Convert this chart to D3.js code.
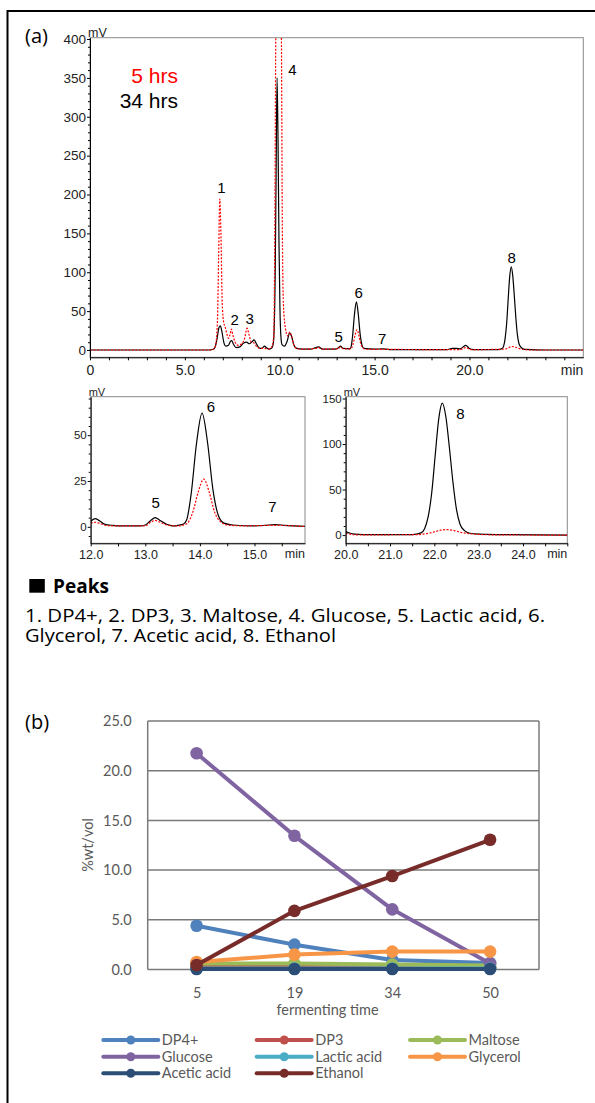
<!DOCTYPE html>
<html><head><meta charset="utf-8">
<script src="https://cdn.jsdelivr.net/npm/d3@7"></script>
<style>
body{margin:0;background:#fff;}
svg{display:block;}
</style></head><body>
<svg id="c" width="595" height="1103"></svg>
<script>
// ---------- DATA (a): chromatograms, [time min, mV] ----------
const main34 = [[0,0],[6.3,0],[6.5,1],[6.6,4],[6.7,15],[6.8,29],[6.87,31],[6.95,24],[7.05,10],[7.15,5],[7.3,6],[7.4,11],[7.47,12],[7.55,8],[7.7,3],[7.9,4],[8.1,9],[8.25,10],[8.4,8],[8.55,11],[8.65,13],[8.75,9],[8.9,3],[9.05,2],[9.2,5],[9.3,3],[9.45,1],[9.6,3],[9.66,8],[9.71,30],[9.76,95],[9.81,230],[9.86,350],[9.91,270],[9.96,140],[10.01,55],[10.06,18],[10.12,7],[10.25,5],[10.4,12],[10.52,22],[10.62,18],[10.75,6],[10.9,2],[11.2,1],[11.6,1],[11.9,3],[12.05,4],[12.25,1],[12.9,1],[13.1,3],[13.2,5],[13.35,2],[13.7,1.5],[13.76,4],[13.84,18],[13.94,46],[14.04,62],[14.14,46],[14.24,20],[14.34,6],[14.44,2],[15,1],[15.4,1.5],[15.8,0.5],[17,0.5],[18.8,0.5],[19.1,2],[19.3,2],[19.5,1.5],[19.8,6],[20,2],[20.2,0.5],[21.5,0.5],[21.72,2],[21.8,5],[21.88,15],[21.96,34],[22.04,65],[22.12,94],[22.2,107],[22.28,96],[22.36,71],[22.44,43],[22.52,21],[22.6,9],[22.7,4],[22.82,1.5],[23,0.7],[24,0],[26,0]];
const main5 = [[0,0],[6.3,0],[6.5,1],[6.62,6],[6.72,40],[6.78,120],[6.84,194],[6.9,150],[6.97,60],[7.05,35],[7.12,30],[7.2,22],[7.3,15],[7.4,22],[7.45,27],[7.52,20],[7.65,10],[7.8,6],[8.0,8],[8.15,15],[8.28,28],[8.38,20],[8.5,10],[8.65,9],[8.8,4],[9.0,2],[9.2,2],[9.4,1],[9.55,3],[9.68,15],[9.74,150],[9.79,400],[9.86,560],[9.94,600],[10.02,560],[10.09,400],[10.14,150],[10.2,55],[10.3,28],[10.42,18],[10.53,23],[10.62,18],[10.75,6],[10.9,2],[11.2,1],[11.9,2],[12.05,3],[12.25,1],[13.1,2],[13.2,4],[13.35,1.5],[13.75,1.5],[13.87,8],[13.97,19],[14.07,26],[14.17,19],[14.27,8],[14.37,3],[14.5,1],[15.4,0.8],[19.5,0.5],[19.8,3],[20.1,0.5],[21.8,1],[22.0,2],[22.15,4],[22.3,4.5],[22.45,3.5],[22.6,2],[22.9,0.5],[23.2,0],[26,0]];
const zoom6_34 = [[12.0,3],[12.08,4.5],[12.15,3.5],[12.25,1.5],[12.4,0.8],[12.6,0.5],[12.9,0.5],[13.0,1],[13.1,3.5],[13.18,5],[13.27,3.5],[13.38,1.5],[13.5,0.5],[13.6,0.8],[13.7,1.5],[13.76,4],[13.84,18],[13.94,46],[14.04,62],[14.14,46],[14.24,20],[14.34,6],[14.44,2],[14.6,1],[15.0,0.5],[15.2,0.8],[15.38,1.2],[15.55,0.8],[15.93,0.3]];
const zoom6_5 = [[12.0,2],[12.08,2.5],[12.15,2],[12.25,1],[12.4,0.5],[13.0,0.5],[13.1,2.5],[13.18,3.5],[13.27,2.5],[13.4,1],[13.6,0.5],[13.75,1.5],[13.87,8],[13.97,19],[14.07,26],[14.17,19],[14.27,8],[14.37,3],[14.5,1],[14.8,0.5],[15.38,0.8],[15.93,0.2]];
const zoom8_34 = [[20.0,4],[20.1,2],[20.2,1],[20.4,0.5],[21.0,0.5],[21.5,0.6],[21.7,2.5],[21.78,7],[21.86,20],[21.94,46],[22.02,88],[22.1,128],[22.18,145],[22.26,130],[22.34,96],[22.42,58],[22.5,28],[22.58,12],[22.68,5],[22.8,2],[23.0,1],[23.5,0.5],[25,0]];
const zoom8_5 = [[20.0,2],[20.1,1],[20.25,0.3],[21.6,0.5],[21.8,1.5],[22.0,3.5],[22.15,5.5],[22.3,6],[22.45,5],[22.6,3],[22.8,1.5],[23.0,0.8],[23.3,0.3],[25,0]];
// peak labels: [label, time, mV]
const mainPeaks = [["1",6.93,202],["2",7.63,32],["3",8.42,34],["4",10.67,354],["5",13.1,10.7],["6",14.16,67],["7",15.4,7.3],["8",22.23,111.5]];
const zoom6Peaks = [["5",13.19,10],["6",14.2,62.5],["7",15.33,8.2]];
const zoom8Peaks = [["8",22.59,128]];
const mainYTicks = [0,50,100,150,200,250,300,350,400];
const mainXTicks = [0,5,10,15,20];
const zoom6YTicks = [0,25,50];
const zoom6XTicks = [12,13,14,15];
const zoom8YTicks = [0,50,100,150];
const zoom8XTicks = [20,21,22,23,24];
const sampleNames = ["5 hrs","34 hrs"];
const peakLines = ["1. DP4+, 2. DP3, 3. Maltose, 4. Glucose, 5. Lactic acid, 6.","Glycerol, 7. Acetic acid, 8. Ethanol"];

// ---------- DATA (b): composition vs fermenting time ----------
const fermentTimes = ["5","19","34","50"];
const seriesNames = ["DP4+","DP3","Maltose","Glucose","Lactic acid","Glycerol","Acetic acid","Ethanol"];
const dp4 = [4.4,2.5,0.95,0.65];
const dp3 = [0.3,0.25,0.2,0.2];
const maltose = [0.6,0.6,0.5,0.4];
const glucose = [21.75,13.45,6.05,0.6];
const lactic = [0.1,0.1,0.1,0.1];
const glycerol = [0.75,1.5,1.8,1.8];
const acetic = [0.05,0.05,0.05,0.05];
const ethanol = [0.45,5.9,9.4,13.05];
const pctTicks = [0,5,10,15,20,25];

// ---------- DRAW ----------
const svg = d3.select("#c");
const CF = "'Liberation Sans', Arial, sans-serif";
const TF = "'Open Sans', 'Noto Sans', sans-serif";
const BF = "Lato, 'Open Sans', sans-serif";

svg.append("path").attr("d","M7.5,1103V11H595").attr("fill","none").attr("stroke","#000").attr("stroke-width",2);
svg.append("text").attr("x",25).attr("y",43).attr("font-family",TF).attr("font-size",20).text("(a)");
svg.append("text").attr("x",25).attr("y",729).attr("font-family",TF).attr("font-size",20).text("(b)");

function chrom(o){
  const x = d3.scaleLinear().domain(o.xd).range([o.l,o.r]);
  const y = d3.scaleLinear().domain(o.yd).range([o.b,o.t]);
  const g = svg.append("g");
  const cid = "clip"+o.id;
  g.append("clipPath").attr("id",cid).append("rect").attr("x",o.l).attr("y",o.t).attr("width",o.r-o.l).attr("height",o.b-o.t);
  g.append("rect").attr("x",o.l).attr("y",o.t).attr("width",o.r-o.l).attr("height",o.b-o.t).attr("fill","none").attr("stroke","#8a8a8a").attr("stroke-width",1);
  const line = d3.line().x(d=>x(d[0])).y(d=>y(d[1])).curve(d3.curveMonotoneX);
  const pg = g.append("g").attr("clip-path",`url(#${cid})`);
  pg.append("path").attr("d",line(o.black)).attr("fill","none").attr("stroke","#000").attr("stroke-width",1.2);
  pg.append("path").attr("d",line(o.red)).attr("fill","none").attr("stroke","#ff0000").attr("stroke-width",1.2).attr("stroke-dasharray","2,1.5");
  const ya = g.append("g").attr("transform",`translate(${o.l},0)`)
    .call(d3.axisLeft(y).tickValues(o.yt).tickSize(3).tickSizeOuter(0).tickPadding(1).tickFormat(d3.format("d")));
  ya.selectAll("text").attr("font-family",CF).attr("font-size",o.yfs).attr("fill","#222");
  const ym = g.append("g").attr("transform",`translate(${o.l},0)`)
    .call(d3.axisLeft(y).tickValues(o.ym).tickSize(2).tickFormat(""));
  ym.select(".domain").remove();
  const xa = g.append("g").attr("transform",`translate(0,${o.b})`)
    .call(d3.axisBottom(x).tickValues(o.xt).tickSize(3).tickSizeOuter(0).tickPadding(o.xpad).tickFormat(o.xf));
  xa.selectAll("text").attr("font-family",CF).attr("font-size",o.xfs).attr("fill","#222");
  const xm = g.append("g").attr("transform",`translate(0,${o.b})`)
    .call(d3.axisBottom(x).tickValues(o.xm).tickSize(3).tickFormat(""));
  xm.select(".domain").remove();
  g.selectAll(".domain").attr("stroke","#000");
  g.append("text").attr("x",o.l-2).attr("y",o.t-1).attr("font-family",CF).attr("font-size",o.ufs).attr("fill","#222").text("mV");
  g.append("text").attr("x",o.r).attr("y",o.b+o.minY).attr("text-anchor","end").attr("font-family",CF).attr("font-size",o.xfs).attr("fill","#222").text("min");
  g.selectAll(".pk").data(o.peaks).join("text").attr("class","pk")
    .attr("x",d=>x(d[1])).attr("y",d=>y(d[2])).attr("text-anchor","middle")
    .attr("font-family",CF).attr("font-size",o.pfs).text(d=>d[0]);
  return {x,y,g};
}

const m = chrom({id:"m",l:90,r:583.3,t:37.7,b:357.3,xd:[0,26],yd:[-9.4,401.7],
  black:main34, red:main5, yt:mainYTicks, ym:d3.range(10,401,10).filter(v=>v%50),
  xt:mainXTicks, xm:d3.range(1,26,1).filter(v=>v%5).concat([25]), xf:d=>d===0?"0":d.toFixed(1),
  xfs:14, yfs:13.5, ufs:12.5, xpad:4.5, minY:18, pfs:15, peaks:mainPeaks});
m.g.append("text").attr("x",178).attr("y",83).attr("text-anchor","end").attr("font-family",CF).attr("font-size",21).attr("fill","#ff0000").text(sampleNames[0]);
m.g.append("text").attr("x",178).attr("y",108).attr("text-anchor","end").attr("font-family",CF).attr("font-size",21).attr("fill","#000").text(sampleNames[1]);

chrom({id:"z6",l:90.7,r:305,t:396.7,b:543.3,xd:[12,15.925],yd:[-9,71],
  black:zoom6_34, red:zoom6_5, yt:zoom6YTicks, ym:d3.range(-5,71,5).filter(v=>v%25),
  xt:zoom6XTicks, xm:[12.5,13.5,14.5,15.5], xf:d=>d.toFixed(1),
  xfs:12.5, yfs:11.5, ufs:11, xpad:4, minY:15, pfs:15, peaks:zoom6Peaks});

chrom({id:"z8",l:345.7,r:567.3,t:396.7,b:543.3,xd:[20,25],yd:[-9,152],
  black:zoom8_34, red:zoom8_5, yt:zoom8YTicks, ym:d3.range(10,151,10).filter(v=>v%50),
  xt:zoom8XTicks, xm:[20.5,21.5,22.5,23.5,24.5,25], xf:d=>d.toFixed(1),
  xfs:12.5, yfs:11.5, ufs:11, xpad:4, minY:15, pfs:15, peaks:zoom8Peaks});

// Peaks text
svg.append("rect").attr("x",29.3).attr("y",579).attr("width",15.5).attr("height",13.7).attr("fill","#000");
svg.append("text").attr("x",53).attr("y",592.7).attr("font-family",TF).attr("font-weight","bold").attr("font-size",19).text("Peaks");
svg.append("text").attr("x",25).attr("y",621.7).attr("font-family",TF).attr("font-size",18.5)
  .attr("textLength",520).attr("lengthAdjust","spacingAndGlyphs").text(peakLines[0]);
svg.append("text").attr("x",25).attr("y",641.5).attr("font-family",TF).attr("font-size",18.5)
  .attr("textLength",311).attr("lengthAdjust","spacingAndGlyphs").text(peakLines[1]);

// ---------- chart (b) ----------
const colors = ["#4F81BD","#C0504D","#9BBB59","#8064A2","#4BACC6","#F79646","#2C4D75","#772C2A"];
const seriesVals = [dp4,dp3,maltose,glucose,lactic,glycerol,acetic,ethanol];
const bl=147.7, br=539, bt=721, bb=969.5;
const bx = d3.scalePoint().domain(fermentTimes).range([bl,br]).padding(0.5);
const by = d3.scaleLinear().domain([0,25]).range([bb,bt]);
const gb = svg.append("g");
gb.selectAll(".grid").data(pctTicks).join("line").attr("class","grid")
  .attr("x1",bl).attr("x2",br).attr("y1",d=>by(d)).attr("y2",d=>by(d))
  .attr("stroke","#7a7a7a").attr("stroke-width",1.5);
gb.append("line").attr("x1",bl).attr("x2",bl).attr("y1",bt).attr("y2",bb).attr("stroke","#7a7a7a").attr("stroke-width",1.5);
gb.append("line").attr("x1",br).attr("x2",br).attr("y1",bt).attr("y2",bb).attr("stroke","#7a7a7a").attr("stroke-width",1.5);
const bya = gb.append("g").attr("transform",`translate(${bl},0)`)
  .call(d3.axisLeft(by).tickValues(pctTicks).tickSize(0).tickPadding(16).tickFormat(d3.format(".1f")));
bya.select(".domain").remove();
bya.selectAll("text").attr("font-family",BF).attr("font-size",14.5).attr("fill","#595959");
const bxa = gb.append("g").attr("transform",`translate(0,${bb})`)
  .call(d3.axisBottom(bx).tickSize(0).tickPadding(18));
bxa.select(".domain").remove();
bxa.selectAll("text").attr("font-family",BF).attr("font-size",14.5).attr("fill","#595959");
gb.append("text").attr("x",327.5).attr("y",1015).attr("text-anchor","middle").attr("font-family",BF).attr("font-size",14.5).attr("fill","#595959").text("fermenting time");
gb.append("text").attr("transform","translate(93,845) rotate(-90)").attr("text-anchor","middle").attr("font-family",BF).attr("font-size",14.5).attr("fill","#595959").text("%wt/vol");
const bline = d3.line().x((d,i)=>bx(fermentTimes[i])).y(d=>by(d));
seriesVals.forEach((vals,si)=>{
  const sg = gb.append("g");
  sg.append("path").attr("d",bline(vals)).attr("fill","none").attr("stroke",colors[si]).attr("stroke-width",4).attr("stroke-linejoin","round");
  sg.selectAll("circle").data(vals).join("circle").attr("cx",(d,i)=>bx(fermentTimes[i])).attr("cy",d=>by(d)).attr("r",6.3).attr("fill",colors[si]);
});
// legend
const lx = [103.3,256.7,410], ly = [1040,1056.7,1073.3];
seriesNames.forEach((n,i)=>{
  const cx = lx[i%3], cy = ly[Math.floor(i/3)];
  const lg = gb.append("g");
  lg.append("line").attr("x1",cx).attr("x2",cx+55).attr("y1",cy).attr("y2",cy).attr("stroke",colors[i]).attr("stroke-width",4).attr("stroke-linecap","round");
  lg.append("circle").attr("cx",cx+27.5).attr("cy",cy).attr("r",4.5).attr("fill",colors[i]);
  lg.append("text").attr("x",cx+58.5).attr("y",cy).attr("dy","0.35em").attr("font-family",BF).attr("font-size",14.5).attr("fill","#595959").text(n);
});
</script>
</body></html>
